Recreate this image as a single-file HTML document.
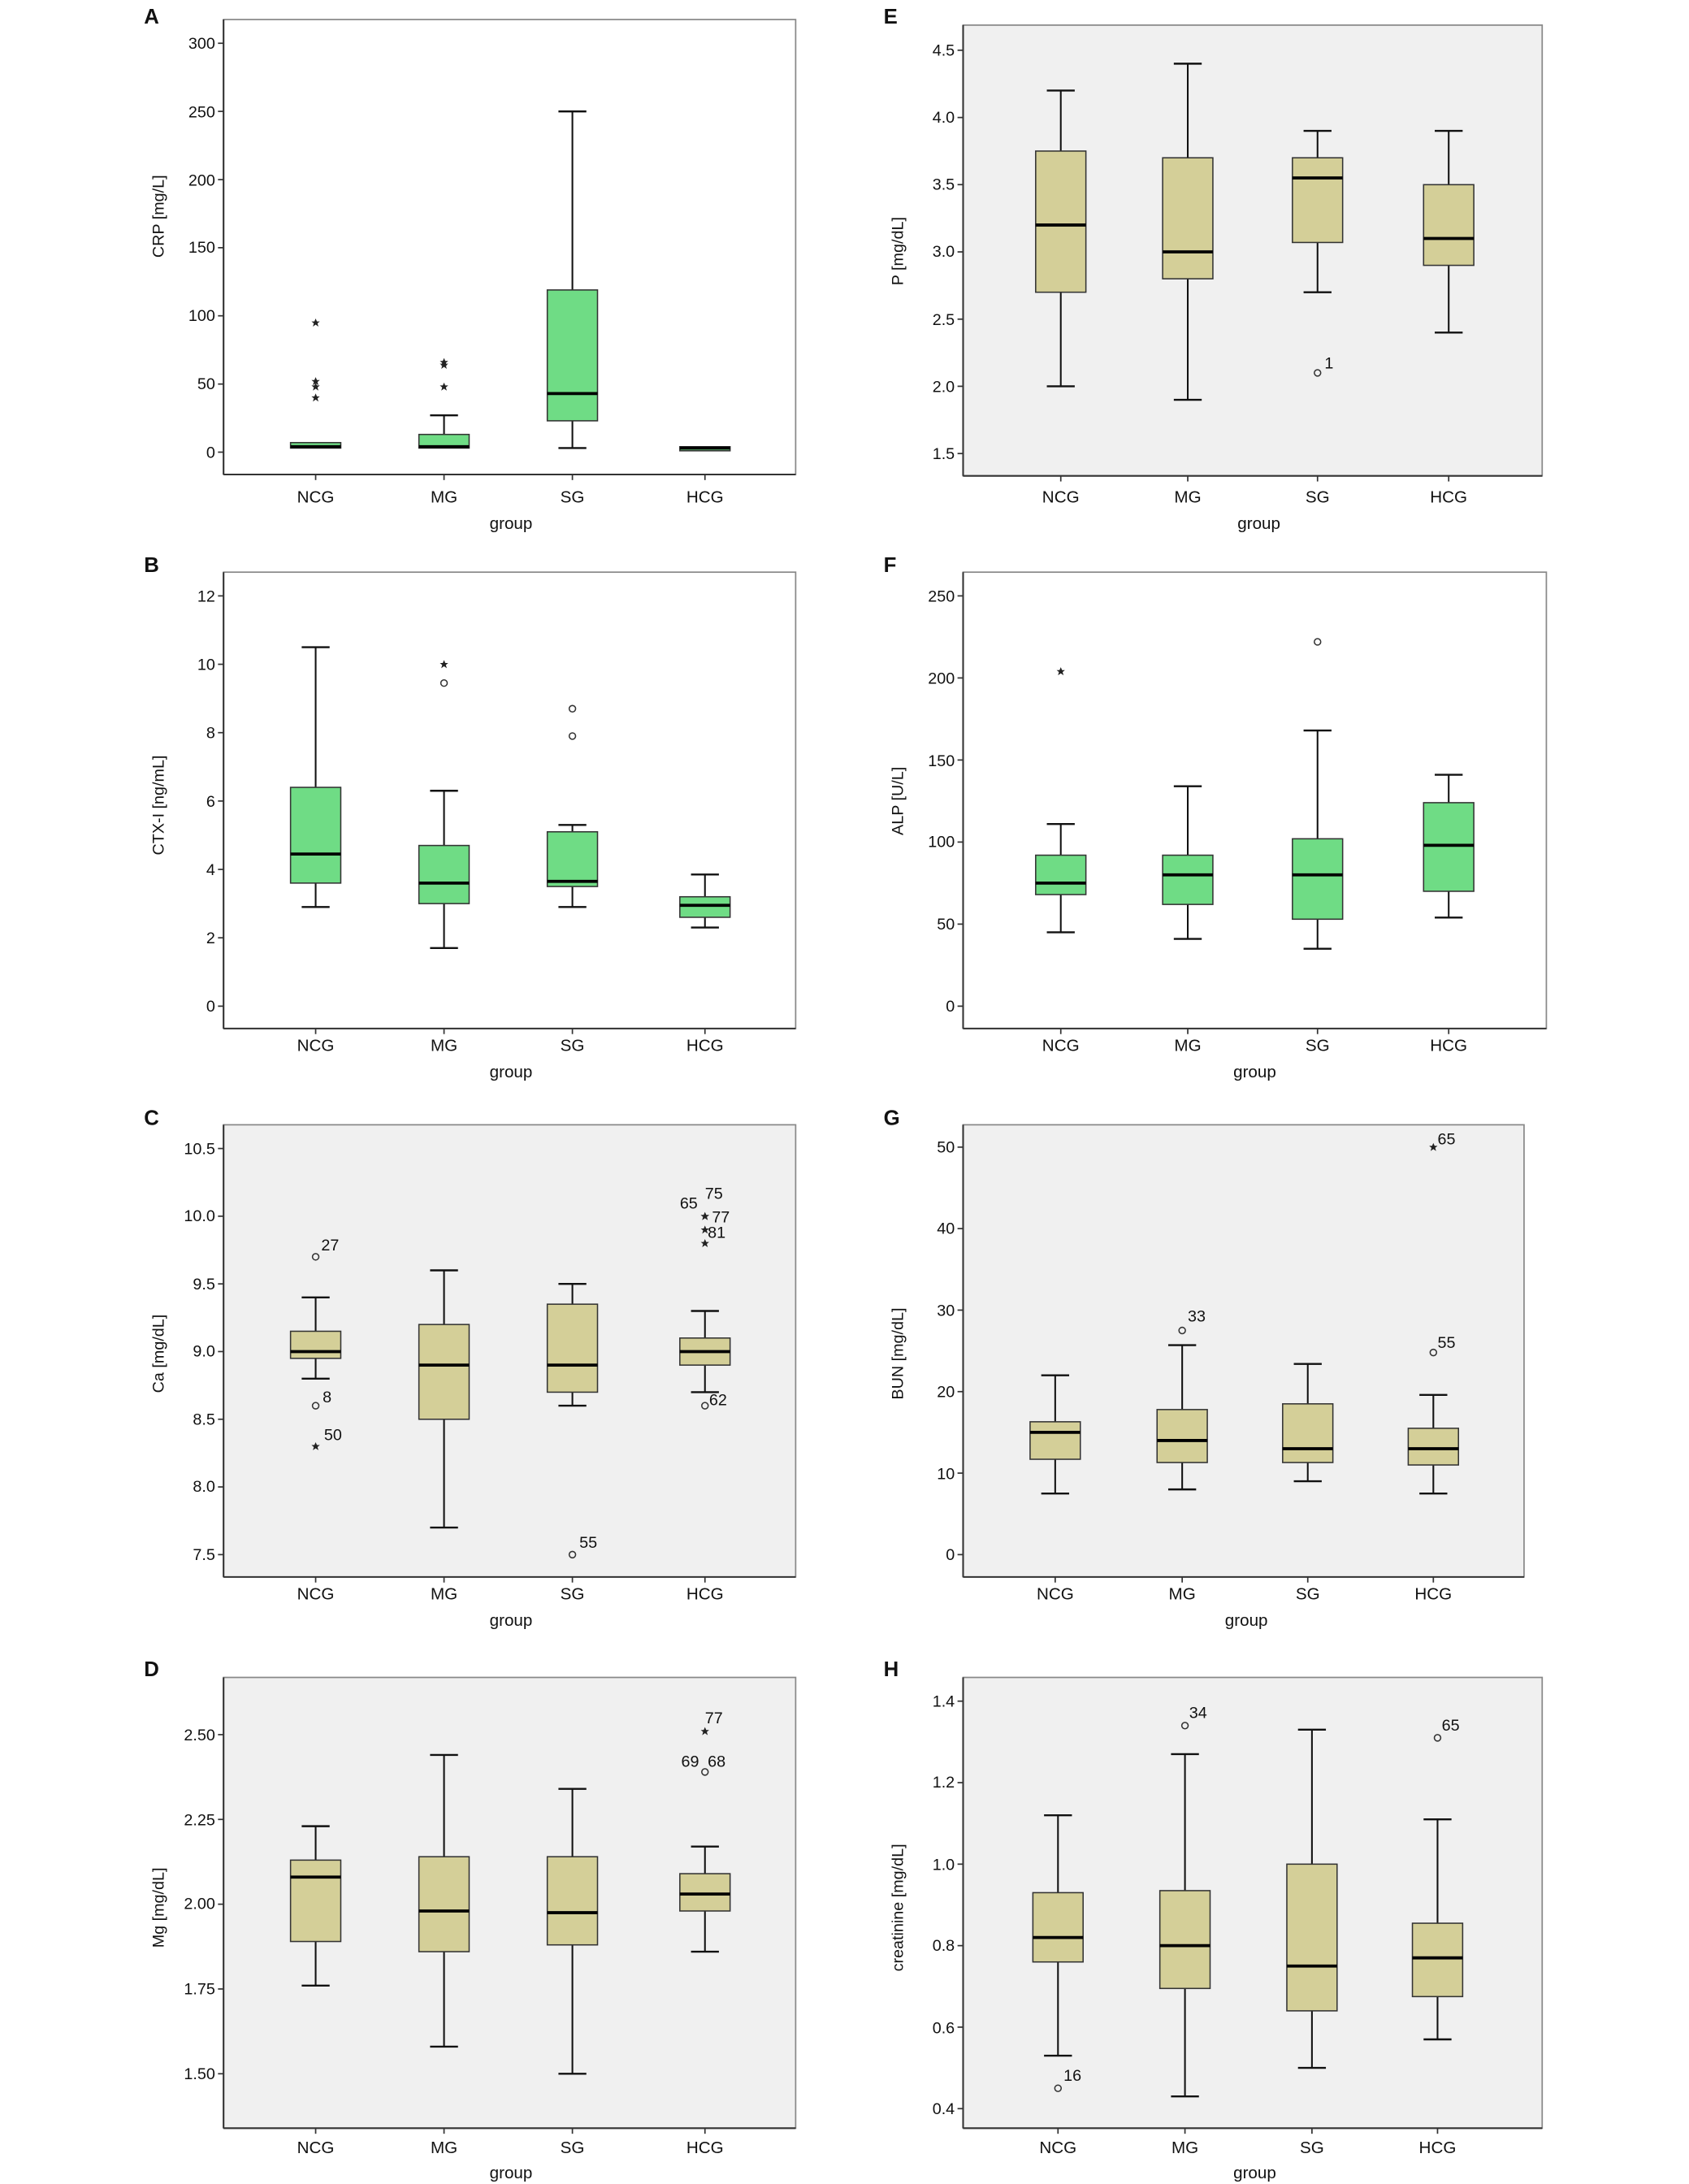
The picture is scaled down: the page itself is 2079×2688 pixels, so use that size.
<!DOCTYPE html>
<html><head><meta charset="utf-8"><style>
html,body{margin:0;padding:0;background:#fff}
svg{display:block}
text{font-family:"Liberation Sans",sans-serif;fill:#111}
.t{font-size:11.5px;text-anchor:end}
.c{font-size:12px;text-anchor:middle}
.g{font-size:12px;text-anchor:middle}
.L{font-size:15px;font-weight:bold}
.yl{font-size:11.5px;text-anchor:middle}
.o{font-size:11.5px}
</style></head><body>
<svg id="s" width="2079" height="2688" viewBox="0 0 1210 1565" xmlns="http://www.w3.org/2000/svg">
<g id="shapes"></g>
<!-- panel letters -->
<text class="L" x="103" y="17">A</text><text class="L" x="103" y="410">B</text><text class="L" x="103" y="806">C</text><text class="L" x="103" y="1201">D</text>
<text class="L" x="633" y="17">E</text><text class="L" x="633" y="410">F</text><text class="L" x="633" y="806">G</text><text class="L" x="633" y="1201">H</text>
<!-- A ticks -->
<text class="t" x="154" y="328">0</text><text class="t" x="154" y="279">50</text><text class="t" x="154" y="230">100</text><text class="t" x="154" y="181">150</text><text class="t" x="154" y="133">200</text><text class="t" x="154" y="84">250</text><text class="t" x="154" y="35">300</text>
<text class="yl" transform="translate(117,155) rotate(-90)">CRP [mg/L]</text>
<!-- B ticks -->
<text class="t" x="154" y="725">0</text><text class="t" x="154" y="676">2</text><text class="t" x="154" y="627">4</text><text class="t" x="154" y="578">6</text><text class="t" x="154" y="529">8</text><text class="t" x="154" y="480">10</text><text class="t" x="154" y="431">12</text>
<text class="yl" transform="translate(117,577) rotate(-90)">CTX-I [ng/mL]</text>
<!-- C ticks -->
<text class="t" x="154" y="1118">7.5</text><text class="t" x="154" y="1069">8.0</text><text class="t" x="154" y="1021">8.5</text><text class="t" x="154" y="972">9.0</text><text class="t" x="154" y="924">9.5</text><text class="t" x="154" y="875">10.0</text><text class="t" x="154" y="827">10.5</text>
<text class="yl" transform="translate(117,970) rotate(-90)">Ca [mg/dL]</text>
<!-- D ticks -->
<text class="t" x="154" y="1490">1.50</text><text class="t" x="154" y="1429">1.75</text><text class="t" x="154" y="1368">2.00</text><text class="t" x="154" y="1308">2.25</text><text class="t" x="154" y="1247">2.50</text>
<text class="yl" transform="translate(117,1367) rotate(-90)">Mg [mg/dL]</text>
<!-- E ticks -->
<text class="t" x="684" y="329">1.5</text><text class="t" x="684" y="281">2.0</text><text class="t" x="684" y="233">2.5</text><text class="t" x="684" y="184">3.0</text><text class="t" x="684" y="136">3.5</text><text class="t" x="684" y="88">4.0</text><text class="t" x="684" y="40">4.5</text>
<text class="yl" transform="translate(647,180) rotate(-90)">P [mg/dL]</text>
<!-- F ticks -->
<text class="t" x="684" y="725">0</text><text class="t" x="684" y="666">50</text><text class="t" x="684" y="607">100</text><text class="t" x="684" y="549">150</text><text class="t" x="684" y="490">200</text><text class="t" x="684" y="431">250</text>
<text class="yl" transform="translate(647,574) rotate(-90)">ALP [U/L]</text>
<!-- G ticks -->
<text class="t" x="684" y="1118">0</text><text class="t" x="684" y="1060">10</text><text class="t" x="684" y="1001">20</text><text class="t" x="684" y="943">30</text><text class="t" x="684" y="884">40</text><text class="t" x="684" y="826">50</text>
<text class="yl" transform="translate(647,970) rotate(-90)">BUN [mg/dL]</text>
<!-- H ticks -->
<text class="t" x="684" y="1515">0.4</text><text class="t" x="684" y="1457">0.6</text><text class="t" x="684" y="1398">0.8</text><text class="t" x="684" y="1340">1.0</text><text class="t" x="684" y="1281">1.2</text><text class="t" x="684" y="1223">1.4</text>
<text class="yl" transform="translate(647,1367) rotate(-90)">creatinine [mg/dL]</text>
<!-- category labels -->
<g class="c">
<text class="c" x="226" y="360">NCG</text><text class="c" x="318" y="360">MG</text><text class="c" x="410" y="360">SG</text><text class="c" x="505" y="360">HCG</text>
<text class="c" x="226" y="753">NCG</text><text class="c" x="318" y="753">MG</text><text class="c" x="410" y="753">SG</text><text class="c" x="505" y="753">HCG</text>
<text class="c" x="226" y="1146">NCG</text><text class="c" x="318" y="1146">MG</text><text class="c" x="410" y="1146">SG</text><text class="c" x="505" y="1146">HCG</text>
<text class="c" x="226" y="1543">NCG</text><text class="c" x="318" y="1543">MG</text><text class="c" x="410" y="1543">SG</text><text class="c" x="505" y="1543">HCG</text>
<text class="c" x="760" y="360">NCG</text><text class="c" x="851" y="360">MG</text><text class="c" x="944" y="360">SG</text><text class="c" x="1038" y="360">HCG</text>
<text class="c" x="760" y="753">NCG</text><text class="c" x="851" y="753">MG</text><text class="c" x="944" y="753">SG</text><text class="c" x="1038" y="753">HCG</text>
<text class="c" x="756" y="1146">NCG</text><text class="c" x="847" y="1146">MG</text><text class="c" x="937" y="1146">SG</text><text class="c" x="1027" y="1146">HCG</text>
<text class="c" x="758" y="1543">NCG</text><text class="c" x="849" y="1543">MG</text><text class="c" x="940" y="1543">SG</text><text class="c" x="1030" y="1543">HCG</text>
</g>
<text class="g" x="366" y="379">group</text><text class="g" x="366" y="772">group</text><text class="g" x="366" y="1165">group</text><text class="g" x="366" y="1561">group</text>
<text class="g" x="902" y="379">group</text><text class="g" x="899" y="772">group</text><text class="g" x="893" y="1165">group</text><text class="g" x="899" y="1561">group</text>
<!-- outlier labels -->
<text class="o" x="230" y="896">27</text><text class="o" x="231" y="1005">8</text><text class="o" x="232" y="1032">50</text><text class="o" x="415" y="1109">55</text>
<text class="o" x="487" y="866">65</text><text class="o" x="505" y="859">75</text><text class="o" x="510" y="876">77</text><text class="o" x="507" y="887">81</text><text class="o" x="508" y="1007">62</text>
<text class="o" x="505" y="1235">77</text><text class="o" x="488" y="1266">69</text><text class="o" x="507" y="1266">68</text>
<text class="o" x="949" y="264">1</text>
<text class="o" x="851" y="947">33</text><text class="o" x="1030" y="966">55</text><text class="o" x="1030" y="820">65</text>
<text class="o" x="762" y="1491">16</text><text class="o" x="852" y="1231">34</text><text class="o" x="1033" y="1240">65</text>
</svg>
<script>
var G='#6fdc85',T='#d4cf98';
var P=[
{x0:160,x1:570,y0:14,y1:340,bg:'#fff',f:G,xs:[226,318,410,505],m:[0,324,300,31],
 b:[[3,7,4,null,null,[],[95,52,48,40]],[3,13,4,null,27,[],[66,64,48]],[23,119,43,3,250,[],[]],[1,4,3,null,null,[],[]]]},
{x0:160,x1:570,y0:410,y1:737,bg:'#fff',f:G,xs:[226,318,410,505],m:[0,721,12,427],
 b:[[3.6,6.4,4.45,2.9,10.5,[],[]],[3.0,4.7,3.6,1.7,6.3,[9.45],[10]],[3.5,5.1,3.65,2.9,5.3,[7.9,8.7],[]],[2.6,3.2,2.95,2.3,3.85,[],[]]]},
{x0:160,x1:570,y0:806,y1:1130,bg:'#f0f0f0',f:T,xs:[226,318,410,505],m:[7.5,1114,10.5,823],
 b:[[8.95,9.15,9.0,8.8,9.4,[9.7,8.6],[8.3]],[8.5,9.2,8.9,7.7,9.6,[],[]],[8.7,9.35,8.9,8.6,9.5,[7.5],[]],[8.9,9.1,9.0,8.7,9.3,[8.6],[10.0,10.0,9.9,9.8]]]},
{x0:160,x1:570,y0:1202,y1:1525,bg:'#f0f0f0',f:T,xs:[226,318,410,505],m:[1.5,1486,2.5,1243],
 b:[[1.89,2.13,2.08,1.76,2.23,[],[]],[1.86,2.14,1.98,1.58,2.44,[],[]],[1.88,2.14,1.975,1.5,2.34,[],[]],[1.98,2.09,2.03,1.86,2.17,[2.39],[2.51]]]},
{x0:690,x1:1105,y0:18,y1:341,bg:'#f0f0f0',f:T,xs:[760,851,944,1038],m:[1.5,325,4.5,36],
 b:[[2.7,3.75,3.2,2.0,4.2,[],[]],[2.8,3.7,3.0,1.9,4.4,[],[]],[3.07,3.7,3.55,2.7,3.9,[2.1],[]],[2.9,3.5,3.1,2.4,3.9,[],[]]]},
{x0:690,x1:1108,y0:410,y1:737,bg:'#fff',f:G,xs:[760,851,944,1038],m:[0,721,250,427],
 b:[[68,92,75,45,111,[],[204]],[62,92,80,41,134,[],[]],[53,102,80,35,168,[222],[]],[70,124,98,54,141,[],[]]]},
{x0:690,x1:1092,y0:806,y1:1130,bg:'#f0f0f0',f:T,xs:[756,847,937,1027],m:[0,1114,50,822],
 b:[[11.7,16.3,15,7.5,22,[],[]],[11.3,17.8,14,8,25.7,[27.5],[]],[11.3,18.5,13,9,23.4,[],[]],[11,15.5,13,7.5,19.6,[24.8],[50]]]},
{x0:690,x1:1105,y0:1202,y1:1525,bg:'#f0f0f0',f:T,xs:[758,849,940,1030],m:[0.4,1511,1.4,1219],
 b:[[0.76,0.93,0.82,0.53,1.12,[0.45],[]],[0.695,0.935,0.80,0.43,1.27,[1.34],[]],[0.64,1.0,0.75,0.50,1.33,[],[]],[0.675,0.855,0.77,0.57,1.11,[1.31],[]]]}
];
var h='';
P.forEach(function(p){
 var m=p.m;function Y(v){return m[1]+(v-m[0])*(m[3]-m[1])/(m[2]-m[0]);}
 h+='<rect x="'+p.x0+'" y="'+p.y0+'" width="'+(p.x1-p.x0)+'" height="'+(p.y1-p.y0)+'" fill="'+p.bg+'" stroke="#888" stroke-width="1"/>';
 h+='<line x1="'+p.x0+'" y1="'+p.y0+'" x2="'+p.x0+'" y2="'+p.y1+'" stroke="#333" stroke-width="1.2"/>';
 h+='<line x1="'+p.x0+'" y1="'+p.y1+'" x2="'+p.x1+'" y2="'+p.y1+'" stroke="#333" stroke-width="1.2"/>';
 // y ticks
 var n=Math.round((m[2]-m[0]));
 p.xs.forEach(function(x){h+='<line x1="'+x+'" y1="'+p.y1+'" x2="'+x+'" y2="'+(p.y1+4)+'" stroke="#333"/>';});
 p.b.forEach(function(b,i){
  var x=p.xs[i],w=18,c=10;
  if(b[3]!=null){h+='<line x1="'+x+'" y1="'+Y(b[3])+'" x2="'+x+'" y2="'+Y(b[0])+'" stroke="#111" stroke-width="1.2"/><line x1="'+(x-c)+'" y1="'+Y(b[3])+'" x2="'+(x+c)+'" y2="'+Y(b[3])+'" stroke="#111" stroke-width="1.4"/>';}
  if(b[4]!=null){h+='<line x1="'+x+'" y1="'+Y(b[4])+'" x2="'+x+'" y2="'+Y(b[1])+'" stroke="#111" stroke-width="1.2"/><line x1="'+(x-c)+'" y1="'+Y(b[4])+'" x2="'+(x+c)+'" y2="'+Y(b[4])+'" stroke="#111" stroke-width="1.4"/>';}
  h+='<rect x="'+(x-w)+'" y="'+Y(b[1])+'" width="'+(2*w)+'" height="'+Math.max(1,Y(b[0])-Y(b[1]))+'" fill="'+p.f+'" stroke="#333" stroke-width="0.9"/>';
  h+='<line x1="'+(x-w)+'" y1="'+Y(b[2])+'" x2="'+(x+w)+'" y2="'+Y(b[2])+'" stroke="#000" stroke-width="2.2"/>';
  b[5].forEach(function(v){h+='<circle cx="'+x+'" cy="'+Y(v)+'" r="2.3" fill="none" stroke="#333" stroke-width="0.9"/>';});
  b[6].forEach(function(v){var y=Y(v);h+='<path d="M'+x+' '+(y-3)+'L'+(x+0.9)+' '+(y-0.9)+'L'+(x+3)+' '+(y-0.9)+'L'+(x+1.3)+' '+(y+0.5)+'L'+(x+2)+' '+(y+2.8)+'L'+x+' '+(y+1.4)+'L'+(x-2)+' '+(y+2.8)+'L'+(x-1.3)+' '+(y+0.5)+'L'+(x-3)+' '+(y-0.9)+'L'+(x-0.9)+' '+(y-0.9)+'Z" fill="#222"/>';});
 });
});
// y tick marks
var ticks=[[160,[324,275.2,226.3,177.5,128.7,79.8,31]],[160,[721,672,623,574,525,476,427]],[160,[1114,1065.5,1017,968.5,920,871.5,823]],[160,[1486,1425.25,1364.5,1303.75,1243]],
[690,[325,276.8,228.7,180.5,132.3,84.2,36]],[690,[721,662.2,603.4,544.6,485.8,427]],[690,[1114,1055.6,997.2,938.8,880.4,822]],[690,[1511,1452.6,1394.2,1335.8,1277.4,1219]]];
ticks.forEach(function(t){t[1].forEach(function(y){h+='<line x1="'+(t[0]-4)+'" y1="'+y+'" x2="'+t[0]+'" y2="'+y+'" stroke="#333"/>';});});
document.getElementById('shapes').innerHTML=h;
</script>
</body></html>
